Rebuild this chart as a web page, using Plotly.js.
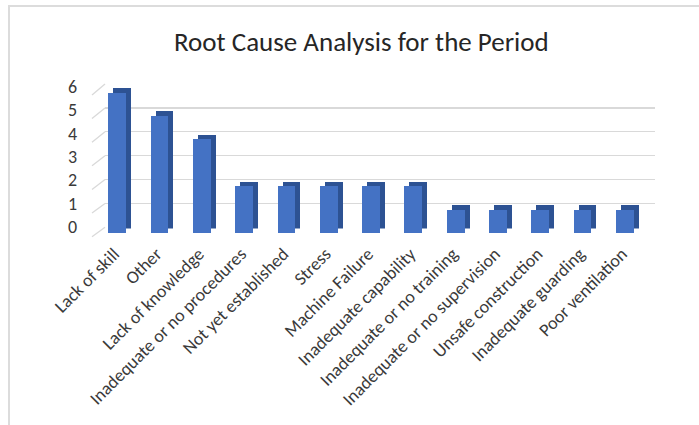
<!DOCTYPE html>
<html>
<head>
<meta charset="utf-8">
<script src="https://cdn.plot.ly/plotly-3.0.1.min.js"></script>
<style>
  html, body { margin: 0; padding: 0; background: #fff; }
  #wrap { position: relative; width: 699px; height: 425px; overflow: hidden; }
  #chart { width: 699px; height: 425px; }
  #frame { position: absolute; left: 8px; top: 5px; width: 720px; height: 440px;
           border-top: 2px solid #dcdcdc; border-left: 2px solid #dcdcdc; pointer-events: none; }
</style>
</head>
<body>
<div id="wrap">
  <div id="chart"></div>
  <div id="frame"></div>
</div>
<script>
const categories = [
  "Lack of skill", "Other", "Lack of knowledge", "Inadequate or no procedures",
  "Not yet established", "Stress", "Machine Failure", "Inadequate capability",
  "Inadequate or no training", "Inadequate or no supervision", "Unsafe construction",
  "Inadequate guarding", "Poor ventilation"
];
const values = [6, 5, 4, 2, 2, 2, 2, 2, 1, 1, 1, 1, 1];
const yTicks = [0, 1, 2, 3, 4, 5, 6];
const chartTitle = "Root Cause Analysis for the Period";

const W = 699, H = 425;
const px = v => v / W;
const py = v => (H - v) / H;

const FONT = "Carlito, Calibri, Lato, 'Open Sans', sans-serif";
const TXT = "#3a3a3a";
const catRange = [-0.5, categories.length - 0.5];
const yRange = [0, 6];

const traces = [
  { type: "scatter", x: categories, y: values, xaxis: "x", yaxis: "y",
    mode: "markers", marker: { opacity: 0 }, hoverinfo: "skip", showlegend: false },
  { type: "bar", x: categories, y: values, xaxis: "x2", yaxis: "y2",
    width: 0.42, marker: { color: "#2d5293", line: { width: 0 } },
    hoverinfo: "skip", showlegend: false },
  { type: "bar", x: categories, y: values, xaxis: "x3", yaxis: "y3",
    width: 0.42, marker: { color: "#4472c4", line: { width: 0 } },
    showlegend: false }
];

const hidden = { showgrid: false, zeroline: false, showticklabels: false, ticks: "", showline: false, fixedrange: true };

const shapes = yTicks.map(t => ({
  type: "line", xref: "paper", yref: "paper",
  x0: px(92), y0: py(236.7 - t * (236.7 - 95) / 6),
  x1: px(105), y1: py(227.3 - t * (227.3 - 84) / 6),
  line: { color: "#d9d9d9", width: 1.3 }
}));

const layout = {
  width: W, height: H,
  margin: { l: 0, r: 0, t: 0, b: 0 },
  paper_bgcolor: "#fff", plot_bgcolor: "rgba(0,0,0,0)",
  showlegend: false,
  bargap: 0,
  font: { family: FONT, color: TXT },
  title: { text: chartTitle, font: { family: FONT, size: 27, color: "#262626" },
           x: 0.517, xanchor: "center", y: py(42), yanchor: "middle", xref: "paper", yref: "paper" },
  xaxis: Object.assign({}, hidden, { type: "category", categoryarray: categories, range: catRange,
          domain: [px(105), px(655)], anchor: "y" }),
  yaxis: Object.assign({}, hidden, { range: yRange, domain: [py(227.3), py(84)], anchor: "x",
          showgrid: true, gridcolor: "#d9d9d9", gridwidth: 1.3, tickvals: yTicks }),
  xaxis2: Object.assign({}, hidden, { type: "category", categoryarray: categories, range: catRange,
          domain: [px(101), px(651)], anchor: "y2" }),
  yaxis2: Object.assign({}, hidden, { range: yRange, domain: [py(228.5), py(88)], anchor: "x2" }),
  xaxis3: Object.assign({}, hidden, { type: "category", categoryarray: categories, range: catRange,
          domain: [px(96), px(646)], anchor: "y3",
          showticklabels: true, tickangle: -45, ticklabelstandoff: 6, ticklabelshift: -3,
          tickfont: { family: FONT, size: 18, color: TXT } }),
  yaxis3: Object.assign({}, hidden, { range: yRange, domain: [py(233), py(92.5)], anchor: "x3",
          showticklabels: true, tickvals: yTicks, ticktext: yTicks.map(String),
          ticklabelstandoff: 18, ticklabelshift: -6,
          tickfont: { family: FONT, size: 18, color: TXT } }),
  shapes: shapes
};

Plotly.newPlot("chart", traces, layout, { displayModeBar: false, staticPlot: true });
</script>
</body>
</html>
